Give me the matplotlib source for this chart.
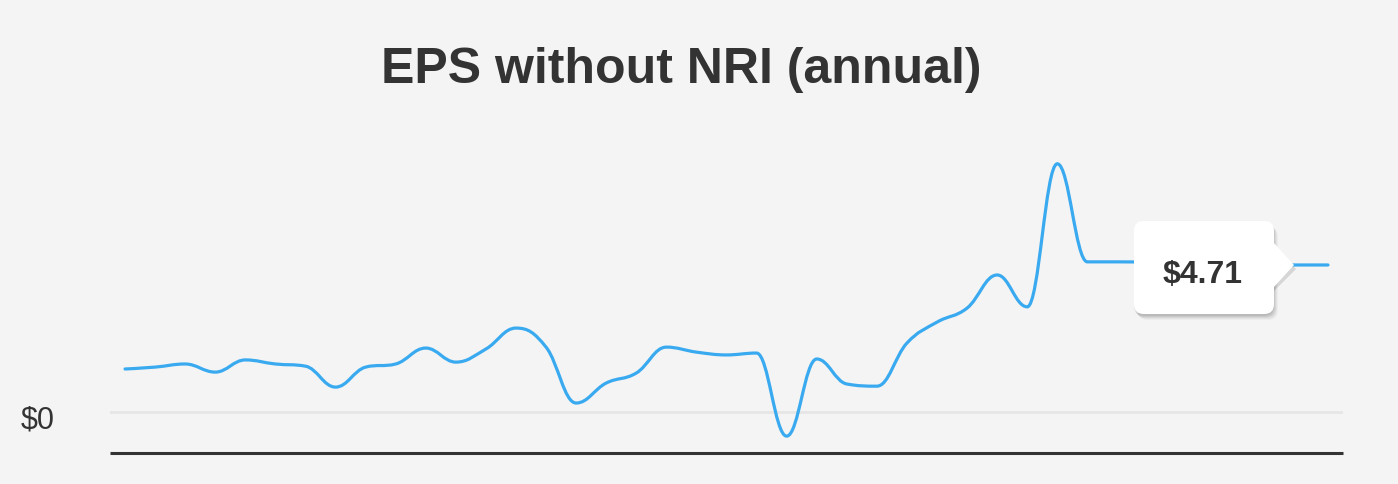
import numpy as np
import matplotlib
matplotlib.use("Agg")
import matplotlib.pyplot as plt
from matplotlib.path import Path
from matplotlib.patches import PathPatch, FancyBboxPatch, Polygon

# ---- data ----
title = "EPS without NRI (annual)"
eps = [1.38, 1.44, 1.54, 1.28, 1.67, 1.54, 1.47, 0.80, 1.44, 1.54,
       2.05, 1.60, 2.02, 2.69, 2.08, 0.29, 0.93, 1.25, 2.08, 1.92,
       1.83, 1.89, -0.77, 1.70, 0.90, 0.83, 2.21, 2.88, 3.33, 4.39,
       3.37, 7.95, 4.81, 4.81, 4.80, 4.78, 4.75, 4.72, 4.71, 4.71, 4.71]
ytick_vals = [0]
ytick_labels = ["$0"]
tooltip_text = "$4.71"

BG = "#f4f4f4"
LINE = "#3aaaf0"
TXT = "#333333"

W, H = 1398, 484
fig = plt.figure(figsize=(W / 100, H / 100), dpi=100, facecolor=BG)
ax_l, ax_r, ax_b, ax_t = 110, 1343, 453, 131
ax = fig.add_axes([ax_l / W, 1 - ax_b / H, (ax_r - ax_l) / W, (ax_b - ax_t) / H])
ax.set_facecolor(BG)
n = len(eps)
ax.set_xlim(-0.5, n - 0.5)
ax.set_ylim(-1.31, 9.0)


# Highcharts-like spline
def spline_path(xs, ys, smoothing=1.5):
    denom = smoothing + 1
    verts = [(xs[0], ys[0])]
    codes = [Path.MOVETO]
    ctrl = []
    for i in range(len(xs)):
        if i == 0 or i == len(xs) - 1:
            ctrl.append(((xs[i], ys[i]), (xs[i], ys[i])))
            continue
        lx, ly = xs[i - 1], ys[i - 1]
        nx, ny = xs[i + 1], ys[i + 1]
        px, py = xs[i], ys[i]
        lcx = (smoothing * px + lx) / denom
        lcy = (smoothing * py + ly) / denom
        rcx = (smoothing * px + nx) / denom
        rcy = (smoothing * py + ny) / denom
        if rcx != lcx:
            corr = ((rcy - lcy) * (rcx - px)) / (rcx - lcx) + py - rcy
            lcy += corr
            rcy += corr
        if lcy > ly and lcy > py:
            lcy = max(ly, py); rcy = 2 * py - lcy
        elif lcy < ly and lcy < py:
            lcy = min(ly, py); rcy = 2 * py - lcy
        if rcy > ny and rcy > py:
            rcy = max(ny, py); lcy = 2 * py - rcy
        elif rcy < ny and rcy < py:
            rcy = min(ny, py); lcy = 2 * py - rcy
        ctrl.append(((lcx, lcy), (rcx, rcy)))
    for i in range(1, len(xs)):
        verts += [ctrl[i - 1][1], ctrl[i][0], (xs[i], ys[i])]
        codes += [Path.CURVE4] * 3
    return Path(verts, codes)


xs = np.arange(n, dtype=float)
ax.add_patch(PathPatch(spline_path(xs, np.array(eps, float)), facecolor="none",
                       edgecolor=LINE, lw=2.3, capstyle="round", joinstyle="round", zorder=3))

# grid line and axis
for v in ytick_vals:
    ax.axhline(v, color="#e6e6e6", lw=2, zorder=1)
ax.set_xticks([])
ax.set_yticks([])
for s in ["top", "right", "left"]:
    ax.spines[s].set_visible(False)
ax.spines["bottom"].set_color("#333333")
ax.spines["bottom"].set_linewidth(2.2)
ax.spines["bottom"].set_capstyle("butt")

# y label placed left of the plot, like the reference
for v, lab in zip(ytick_vals, ytick_labels):
    ypix_fig = ax.transData.transform((0, v))[1]
    fig.text(21 / W, (ypix_fig - 16) / H, lab, ha="left", va="baseline", fontsize=22,
             color=TXT, family="Liberation Sans")

fig.text(681 / W, 1 - 83 / H, title, ha="center", va="baseline", fontsize=36,
         fontweight="bold", color=TXT, family="Liberation Sans")

# tooltip (in pixel coords of figure)
def fx(px):
    return px / W

def fy(py):
    return 1 - py / H

bx0, bx1, by0, by1 = 1134, 1274, 221, 314
tip_x = 1294
tip_y = 265
for k, a in enumerate([0.03, 0.04, 0.05, 0.06, 0.07]):
    off = 6 - k
    sh = FancyBboxPatch((fx(bx0 + off - 2), fy(by1 + off)), fx(bx1 - bx0), (by1 - by0) / H,
                        boxstyle="round,pad=0,rounding_size=0.007",
                        transform=fig.transFigure, facecolor="black", edgecolor="none",
                        alpha=a, zorder=5, mutation_aspect=W / H)
    fig.add_artist(sh)
box = FancyBboxPatch((fx(bx0), fy(by1)), fx(bx1 - bx0), (by1 - by0) / H,
                     boxstyle="round,pad=0,rounding_size=0.007",
                     transform=fig.transFigure, facecolor="white", edgecolor="none",
                     zorder=6, mutation_aspect=W / H)
fig.add_artist(box)
tri_sh = Polygon([(fx(bx1 - 1), fy(242 + 4)), (fx(tip_x + 2), fy(tip_y + 4)), (fx(bx1 - 1), fy(288 + 4))],
                 closed=True, transform=fig.transFigure, facecolor="black", alpha=0.12,
                 edgecolor="none", zorder=5)
fig.add_artist(tri_sh)
tri = Polygon([(fx(bx1 - 1), fy(242)), (fx(tip_x), fy(tip_y)), (fx(bx1 - 1), fy(288))],
              closed=True, transform=fig.transFigure, facecolor="white",
              edgecolor="none", zorder=6)
fig.add_artist(tri)
fig.text(fx(1203), fy(283), tooltip_text, ha="center", va="baseline", fontsize=23,
         fontweight="bold", color=TXT, family="Liberation Sans", zorder=7)

fig.savefig("out.png", dpi=100, facecolor=BG)
